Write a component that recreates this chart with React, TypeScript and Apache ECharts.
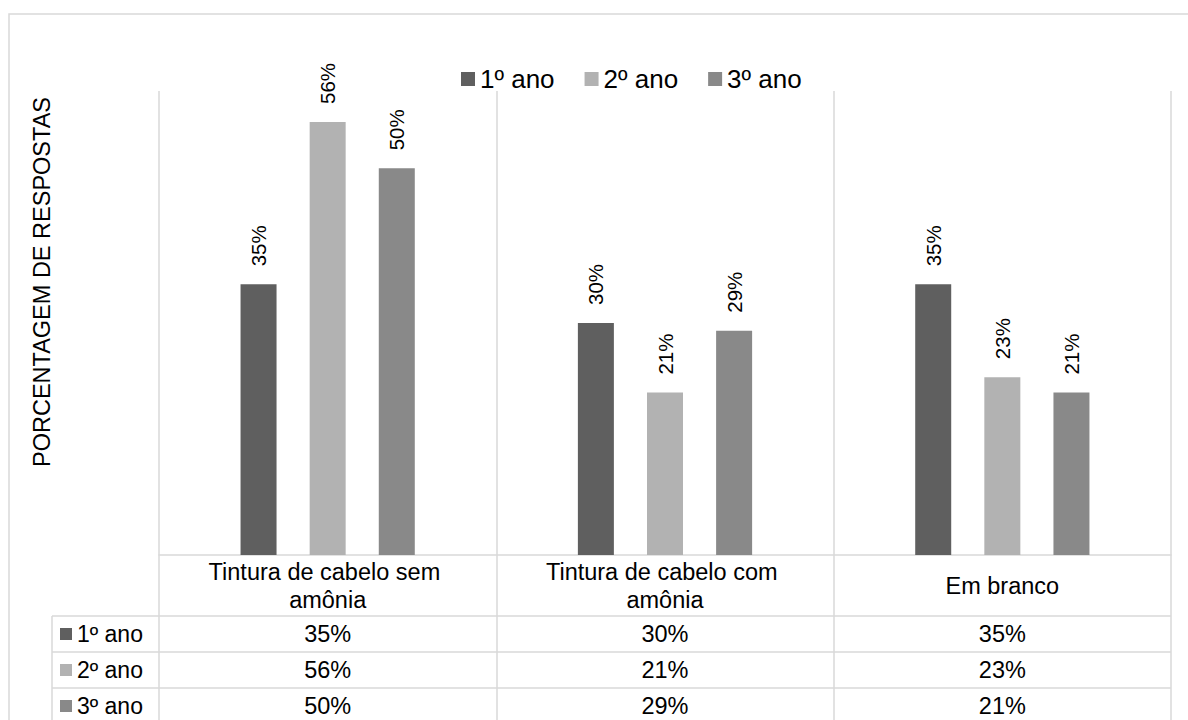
import React, { useEffect, useRef } from "react";
import * as echarts from "echarts";

const categories = ["Tintura de cabelo sem amônia", "Tintura de cabelo com amônia", "Em branco"];
const seriesNames = ["1º ano", "2º ano", "3º ano"];
const ano1 = [35, 30, 35];
const ano2 = [56, 21, 23];
const ano3 = [50, 29, 21];
const seriesValues = [ano1, ano2, ano3];
const colors = ["#5f5f5f", "#b2b2b2", "#898989"];
const yTitle = "PORCENTAGEM DE RESPOSTAS";

const FONT = "'Liberation Sans', Arial, sans-serif";
const GRID = "#d9d9d9";

export default function App() {
  const ref = useRef<HTMLDivElement>(null);
  useEffect(() => {
    document.body.style.margin = "0";
    const chart = echarts.init(ref.current!, null, { renderer: "svg" });
    const left = 159, right = 1171, top = 91, bottom = 555;
    const rowTops = [616, 652, 688];
    const rowH = 36;

    const graphic: any[] = [
      { type: "rect", shape: { x: 9, y: 14, width: 1200, height: 720 }, style: { fill: "none", stroke: GRID, lineWidth: 1.5 }, silent: true },
      { type: "text", x: 42, y: 282, rotation: Math.PI / 2, style: { text: yTitle, font: `23.5px ${FONT}`, fill: "#000", align: "center", verticalAlign: "middle" } },
      { type: "line", shape: { x1: 52, y1: rowTops[0], x2: 52, y2: 730 }, style: { stroke: GRID, lineWidth: 1.5 } },
    ];
    rowTops.forEach((y) => {
      graphic.push({ type: "line", shape: { x1: 52, y1: y, x2: right, y2: y }, style: { stroke: GRID, lineWidth: 1.5 } });
    });
    graphic.push({ type: "line", shape: { x1: 52, y1: rowTops[2] + rowH, x2: right, y2: rowTops[2] + rowH }, style: { stroke: GRID, lineWidth: 1.5 } });
    seriesNames.forEach((n, i) => {
      const cy = rowTops[i] + rowH / 2;
      graphic.push({ type: "rect", shape: { x: 60, y: cy - 6, width: 12, height: 12 }, style: { fill: colors[i] } });
      graphic.push({ type: "text", x: 77, y: cy, style: { text: n, font: `23px ${FONT}`, fill: "#000", align: "left", verticalAlign: "middle" } });
    });

    const rowAxes = seriesValues.map((vals, k) => ({
      type: "category",
      data: categories,
      gridIndex: 0,
      position: "bottom",
      axisLine: { show: false },
      axisTick: { show: false },
      splitLine: { show: false },
      axisLabel: {
        interval: 0,
        margin: rowTops[k] + rowH / 2 - bottom,
        verticalAlign: "middle",
        fontSize: 23.5,
        fontFamily: FONT,
        color: "#000",
        formatter: (_v: string, idx: number) => vals[idx] + "%",
      },
    }));

    chart.setOption({
      animation: false,
      textStyle: { fontFamily: FONT },
      legend: {
        data: seriesNames,
        left: 461,
        top: 66,
        padding: 0,
        icon: "rect",
        itemWidth: 14,
        itemHeight: 14,
        itemGap: 30,
        textStyle: { fontSize: 26, fontFamily: FONT, color: "#000" },
      },
      grid: { left, top, width: right - left, height: bottom - top, containLabel: false },
      xAxis: [
        {
          type: "category",
          data: categories,
          axisLine: { show: true, lineStyle: { color: GRID, width: 1.5 } },
          axisTick: { show: true, length: 175, inside: false, lineStyle: { color: GRID, width: 1.5 } },
          splitLine: { show: true, lineStyle: { color: GRID, width: 1.5 } },
          axisLabel: {
            interval: 0,
            margin: 31,
            verticalAlign: "middle",
            fontSize: 23.5,
            lineHeight: 28,
            fontFamily: FONT,
            color: "#000",
            width: 300,
            overflow: "break",
          },
        },
        ...rowAxes,
      ],
      yAxis: {
        type: "value",
        min: 0,
        max: 60,
        axisLine: { show: false },
        axisTick: { show: false },
        axisLabel: { show: false },
        splitLine: { show: false },
      },
      series: seriesValues.map((vals, i) => ({
        name: seriesNames[i],
        type: "bar",
        data: vals,
        barWidth: 36,
        barGap: "92%",
        itemStyle: { color: colors[i] },
        label: {
          show: true,
          position: "top",
          rotate: 90,
          align: "left",
          verticalAlign: "middle",
          distance: 18,
          fontSize: 20.5,
          fontFamily: FONT,
          color: "#000",
          formatter: (p: any) => p.value + "%",
        },
      })),
      graphic,
    });
    return () => chart.dispose();
  }, []);
  return <div ref={ref} style={{ width: 1188, height: 720 }} />;
}
